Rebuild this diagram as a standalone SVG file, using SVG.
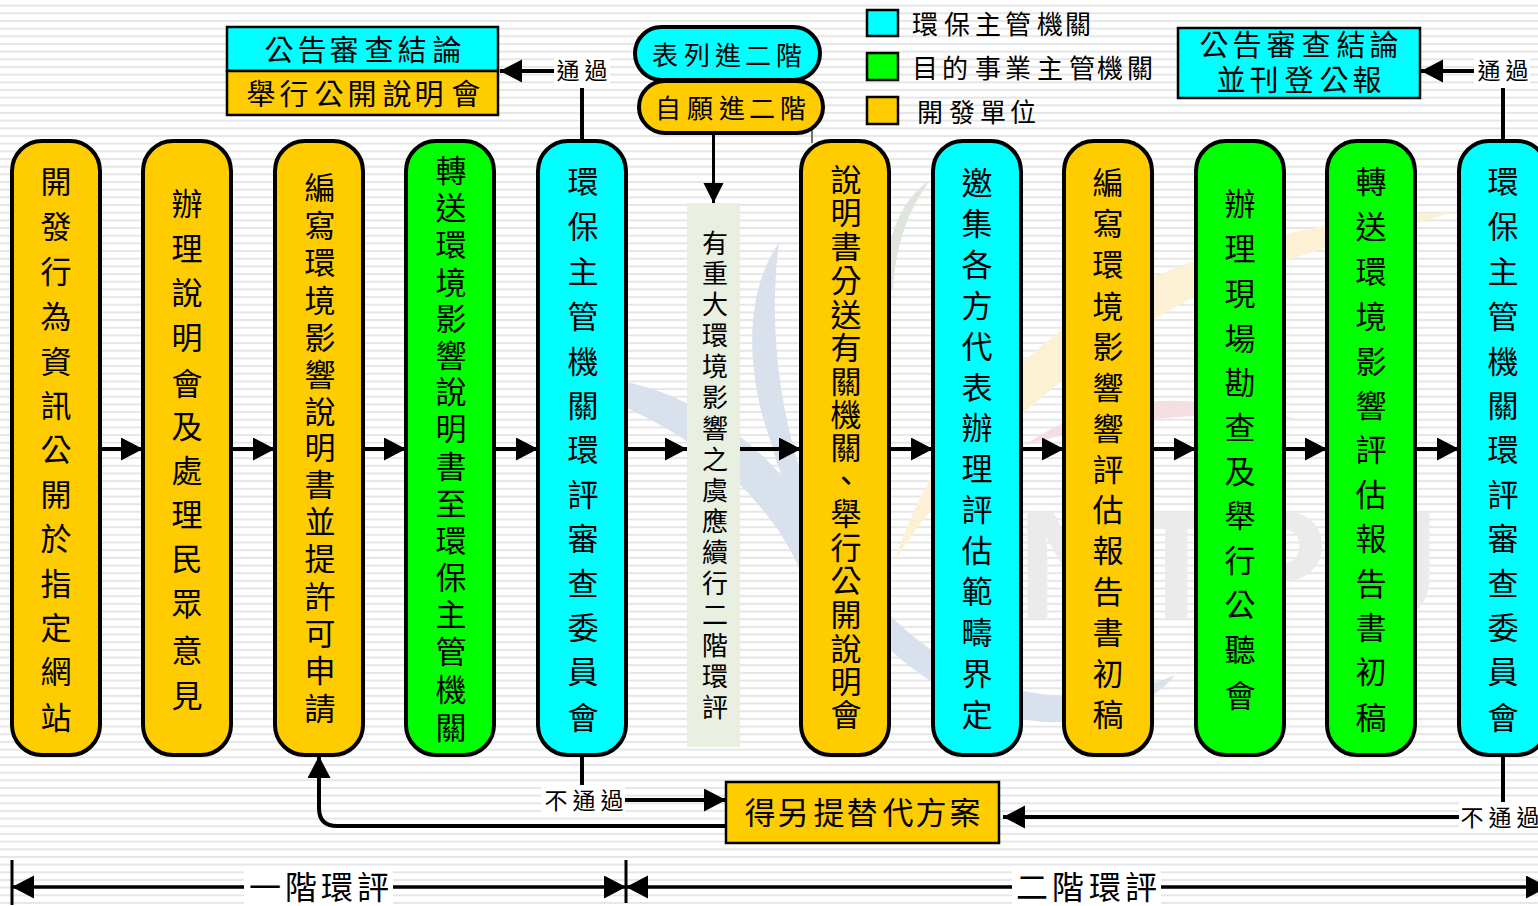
<svg xmlns="http://www.w3.org/2000/svg" width="1538" height="906" viewBox="0 0 1538 906">
<style>
text{font-family:"Noto Sans CJK TC","Noto Sans CJK SC",sans-serif;fill:#000;text-anchor:middle;dominant-baseline:central}
.col{stroke:#000;stroke-width:4}
.o{fill:#ffcc00}.c{fill:#00ffff}.g{fill:#00ff00}
.box{stroke:#000;stroke-width:2.5}
.t32{font-size:31px}.t30{font-size:29px}.t26{font-size:26px}.t24{font-size:23px}.t34{font-size:32px}
.ln{fill:none;stroke:#000;stroke-width:4}
.ln3{fill:none;stroke:#000;stroke-width:3}
.wm{stroke:none}
</style>
<defs>
<pattern id="st" width="10" height="7.67" patternUnits="userSpaceOnUse" y="4.6"><rect width="10" height="2" fill="#e6e6e6"/></pattern>
<marker id="a" markerUnits="userSpaceOnUse" markerWidth="24" markerHeight="24" refX="22" refY="11.5" orient="auto"><path d="M0 0L22 11.500L0 23Z" fill="#000"/></marker>
<marker id="b" markerUnits="userSpaceOnUse" markerWidth="24" markerHeight="24" refX="20" refY="10" orient="auto"><path d="M0 0L20 10L0 20Z" fill="#000"/></marker>
</defs>
<rect width="1538" height="906" fill="#fff"/>
<rect width="1538" height="906" fill="url(#st)"/>
<g id="watermark">
<path class="wm" d="M779 243C745 290 745 370 770 440C790 510 830 590 880 640C930 690 1000 725 1060 722C1110 720 1150 705 1175 675C1130 695 1060 705 1000 685C900 650 830 560 800 470C775 390 770 310 779 243Z" fill="#d9e1ec"/>
<path class="wm" d="M626 382C690 395 760 440 800 500L800 570C770 500 700 440 626 408Z" fill="#d9e1ec"/>
<path class="wm" d="M930 180C900 200 885 240 885 290L893 290C895 250 905 215 930 180Z" fill="#dfe5dd"/>
<path class="wm" d="M895 560C930 450 1020 330 1170 270C1270 230 1370 215 1455 212C1360 240 1260 260 1170 310C1060 370 960 460 895 560Z" fill="#fdf1d5"/>
<path class="wm" d="M1025 445C1090 400 1170 385 1300 420C1220 410 1130 415 1025 445Z" fill="#f3dfe2"/>
<text x="1228" y="565" style="font-family:'Liberation Sans',sans-serif;font-size:155px;font-weight:bold;fill:#ebebeb">NTPU</text>
</g>
<g id="connectors">
<path class="ln" d="M100 449H143" marker-end="url(#a)"/>
<path class="ln" d="M231 449H275" marker-end="url(#a)"/>
<path class="ln" d="M363 449H406" marker-end="url(#a)"/>
<path class="ln" d="M494 449H538" marker-end="url(#a)"/>
<path class="ln" d="M626 449H687" marker-end="url(#a)"/>
<path class="ln" d="M738 449H801" marker-end="url(#a)"/>
<path class="ln" d="M889 449H933" marker-end="url(#a)"/>
<path class="ln" d="M1021 449H1064" marker-end="url(#a)"/>
<path class="ln" d="M1152 449H1196" marker-end="url(#a)"/>
<path class="ln" d="M1284 449H1327" marker-end="url(#a)"/>
<path class="ln" d="M1415 449H1459" marker-end="url(#a)"/>
<path class="ln" d="M582 141V71H500" marker-end="url(#a)"/>
<path class="ln" d="M1503 141V71H1421" marker-end="url(#a)"/>
<path class="ln3" d="M713.500 133V203" marker-end="url(#b)"/>
<path d="M812 130V143" fill="none" stroke="#444" stroke-width="1.500"/>
<path class="ln" d="M582 756V800H726" marker-end="url(#a)"/>
<path class="ln" d="M726 826H337Q319 826 319 808V756" marker-end="url(#a)"/>
<path class="ln" d="M1503 756V817H1003" marker-end="url(#a)"/>
<path class="ln3" d="M12 860V905M626 860V903"/>
<path class="ln3" d="M626 887H12" marker-end="url(#a)"/>
<path class="ln3" d="M12 887H626" marker-end="url(#a)"/>
<path class="ln3" d="M626 887H1548" marker-end="url(#a)"/>
<path class="ln3" d="M1548 887H626" marker-end="url(#a)"/>
</g>
<g id="n1"><rect class="col o" x="12" y="141" width="88" height="614" rx="30"/><text class="t32" x="56 56 56 56 56 56 56 56 56 56 56 56 56" y="179 224 269 314 359 403 447 492 536 581 625 669 715">開發行為資訊公開於指定網站</text></g>
<g id="n2"><rect class="col o" x="143" y="141" width="88" height="614" rx="30"/><text class="t32" x="187 187 187 187 187 187 187 187 187 187 187 187" y="201 246 290 335 381 424 468 512 556 601 648 693">辦理說明會及處理民眾意見</text></g>
<g id="n3"><rect class="col o" x="275" y="141" width="88" height="614" rx="30"/><text class="t32" x="320 320 320 320 320 320 320 320 320 320 320 320 320 320 320" y="185 223 260 298 335 372 409 445 482 519 556 594 631 668 706">編寫環境影響說明書並提許可申請</text></g>
<g id="n4"><rect class="col g" x="406" y="141" width="88" height="614" rx="30"/><text class="t32" x="451 451 451 451 451 451 451 451 451 451 451 451 451 451 451 451" y="168 205 242 280 316 353 389 426 464 501 538 575 612 649 687 725">轉送環境影響說明書至環保主管機關</text></g>
<g id="n5"><rect class="col c" x="538" y="141" width="88" height="614" rx="30"/><text class="t32" x="583 583 583 583 583 583 583 583 583 583 583 583 583" y="179 224 269 314 359 403 447 492 536 581 625 669 715">環保主管機關環評審查委員會</text></g>
<g id="n6"><rect x="687" y="203" width="53" height="544" fill="#e9efe1"/><text class="t26" x="715 715 715 715 715 715 715 715 715 715 715 715 715 715 715 715" y="241 271 302 333 364 395 426 457 488 519 550 581 612 643 674 705">有重大環境影響之虞應續行二階環評</text></g>
<g id="n7"><rect class="col o" x="801" y="141" width="88" height="614" rx="30"/><text class="t32" x="846 846 846 846 846 846 846 846 846 846 846 846 846 846 846 846 846" y="177 210 244 278 312 345 379 412 445 478 511 545 578 612 646 679 712">說明書分送有關機關、舉行公開說明會</text></g>
<g id="n8"><rect class="col c" x="933" y="141" width="88" height="614" rx="30"/><text class="t32" x="977 977 977 977 977 977 977 977 977 977 977 977 977 977" y="180 221 262 303 344 385 425 466 507 548 589 630 671 712">邀集各方代表辦理評估範疇界定</text></g>
<g id="n9"><rect class="col o" x="1064" y="141" width="88" height="614" rx="30"/><text class="t32" x="1108 1108 1108 1108 1108 1108 1108 1108 1108 1108 1108 1108 1108 1108" y="180 221 262 304 344 385 426 467 507 548 589 630 671 712">編寫環境影響響評估報告書初稿</text></g>
<g id="n10"><rect class="col g" x="1196" y="141" width="88" height="614" rx="30"/><text class="t32" x="1240 1240 1240 1240 1240 1240 1240 1240 1240 1240 1240 1240" y="201 246 291 336 380 425 469 513 558 602 647 693">辦理現場勘查及舉行公聽會</text></g>
<g id="n11"><rect class="col g" x="1327" y="141" width="88" height="614" rx="30"/><text class="t32" x="1371 1371 1371 1371 1371 1371 1371 1371 1371 1371 1371 1371 1371" y="179 224 269 314 359 403 447 492 536 581 625 669 715">轉送環境影響評估報告書初稿</text></g>
<g id="n12"><rect class="col c" x="1459" y="141" width="88" height="614" rx="30"/><text class="t32" x="1503 1503 1503 1503 1503 1503 1503 1503 1503 1503 1503 1503 1503" y="179 224 269 314 359 403 447 492 536 581 625 669 715">環保主管機關環評審查委員會</text></g>
<g id="n13"><rect class="box c" x="227" y="27" width="271" height="44"/><text class="t30" y="48" x="279 312 344 379 412 447">公告審查結論</text></g>
<g id="n14"><rect class="box o" x="227" y="71" width="271" height="44"/><text class="t30" y="92" x="261 294 329 362 397 429 466">舉行公開說明會</text></g>
<g id="n15"><rect class="col c" x="635" y="27" width="185" height="53" rx="26.500"/><text class="t26" y="53" x="665 697 728 758 789">表列進二階</text></g>
<g id="n16"><rect class="col o" x="639" y="81" width="184" height="52" rx="26"/><text class="t26" y="106" x="668 700 732 762 793">自願進二階</text></g>
<g id="legend">
<rect class="box c" x="867" y="10" width="31" height="26"/><text class="t26" y="22" x="925 957 988 1018 1050 1078">環保主管機關</text>
<rect class="box g" x="867" y="53" width="31" height="27"/><text class="t26" y="66" x="925 955 988 1018 1050 1082 1110 1140">目的事業主管機關</text>
<rect class="box o" x="867" y="97" width="31" height="27"/><text class="t26" y="110" x="930 962 993 1023">開發單位</text>
</g>
<g id="n17"><rect class="box c" x="1178" y="28" width="242" height="70"/><text class="t30" y="43" x="1214 1247 1281 1316 1351 1384">公告審查結論</text><text class="t30" y="78" x="1231 1264 1299 1334 1367">並刊登公報</text></g>
<g id="n18"><rect class="box o" x="726" y="782" width="273" height="61"/><text class="t32" y="810" x="760 793 829 862 898 931 965">得另提替代方案</text></g>
<g id="labels">
<rect x="554" y="57" width="56" height="31" fill="#fff"/><text class="t24" y="69" x="568 596">通過</text>
<rect x="1474" y="57" width="56" height="31" fill="#fff"/><text class="t24" y="69" x="1489 1517">通過</text>
<rect x="541" y="785" width="84" height="32" fill="#fff"/><text class="t24" y="799" x="556 584 612">不通過</text>
<rect x="1459" y="802" width="79" height="31" fill="#fff"/><text class="t24" y="816" x="1472 1500 1528">不通過</text>
<rect x="244" y="868" width="149" height="38" fill="#fff"/><text class="t34" y="885" x="265 301 337 373">一階環評</text>
<rect x="1012" y="868" width="149" height="38" fill="#fff"/><text class="t34" y="885" x="1032 1068 1105 1141">二階環評</text>
</g>
</svg>
